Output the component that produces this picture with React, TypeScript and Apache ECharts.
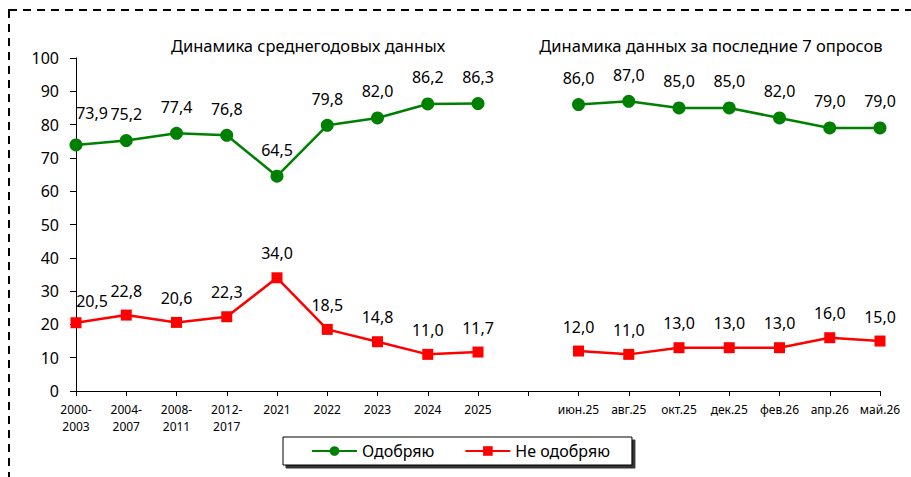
import React, { useEffect, useRef } from "react";
import * as echarts from "echarts";

const categories = [
  "2000-\n2003", "2004-\n2007", "2008-\n2011", "2012-\n2017", "2021", "2022", "2023", "2024", "2025",
  "",
  "июн.25", "авг.25", "окт.25", "дек.25", "фев.26", "апр.26", "май.26",
];
const approve: (number | null)[] = [73.9, 75.2, 77.4, 76.8, 64.5, 79.8, 82.0, 86.2, 86.3, null, 86.0, 87.0, 85.0, 85.0, 82.0, 79.0, 79.0];
const disapprove: (number | null)[] = [20.5, 22.8, 20.6, 22.3, 34.0, 18.5, 14.8, 11.0, 11.7, null, 12.0, 11.0, 13.0, 13.0, 13.0, 16.0, 15.0];
const yTicks = [0, 10, 20, 30, 40, 50, 60, 70, 80, 90, 100];
const titleLeft = "Динамика среднегодовых данных";
const titleRight = "Динамика данных за последние 7 опросов";

const FONT = "'Noto Sans', sans-serif";
const fmt = (p: any) => (p.value == null ? "" : Number(p.value).toFixed(1).replace(".", ","));

export default function App() {
  const ref = useRef<HTMLDivElement>(null);
  useEffect(() => {
    if (!ref.current) return;
    const chart = echarts.init(ref.current, undefined, { renderer: "svg" });
    const mkData = (arr: (number | null)[], firstOffset: number[]) =>
      arr.map((v, i) => (i === 0 ? { value: v, label: { offset: firstOffset } } : v));
    chart.setOption({
      animation: false,
      textStyle: { fontFamily: FONT },
      grid: { left: 76, right: 31, top: 58, bottom: 86 },
      graphic: [
        {
          type: "rect",
          shape: { x: 9, y: 10, width: 1000, height: 600 },
          style: { fill: "none", stroke: "#000", lineWidth: 2, lineDash: [8, 6] },
          silent: true,
        },
        {
          type: "text",
          style: { text: titleLeft, x: 308, y: 45, align: "center", verticalAlign: "middle", font: `16.5px ${FONT}`, fill: "#000" },
        },
        {
          type: "text",
          style: { text: titleRight, x: 711, y: 45, align: "center", verticalAlign: "middle", font: `16.5px ${FONT}`, fill: "#000" },
        },
      ],
      legend: {
        left: 283,
        top: 437,
        padding: [6, 22, 6, 28],
        itemWidth: 45,
        itemHeight: 12,
        itemGap: 30,
        backgroundColor: "#fff",
        borderColor: "#000",
        borderWidth: 1,
        borderRadius: 0,
        shadowColor: "rgba(0,0,0,0.8)",
        shadowOffsetX: 3,
        shadowOffsetY: 3,
        shadowBlur: 0,
        textStyle: { fontSize: 16, color: "#000", fontFamily: FONT },
        data: ["Одобряю", "Не одобряю"],
      },
      xAxis: {
        type: "category",
        data: categories,
        boundaryGap: false,
        axisLine: { lineStyle: { color: "#000", width: 1 } },
        axisTick: { show: true, length: 5, alignWithLabel: true, lineStyle: { color: "#000" } },
        axisLabel: { fontSize: 12, color: "#000", interval: 0, lineHeight: 17, margin: 10, fontFamily: FONT },
      },
      yAxis: {
        type: "value",
        min: 0,
        max: 100,
        interval: 10,
        splitLine: { show: false },
        axisLine: { show: true, lineStyle: { color: "#000", width: 1 } },
        axisTick: { show: true, length: 6, lineStyle: { color: "#000" } },
        axisLabel: {
          fontSize: 16,
          color: "#000",
          margin: 17,
          fontFamily: FONT,
          formatter: (v: number) => (yTicks.includes(v) ? String(v) : ""),
        },
      },
      series: [
        {
          name: "Одобряю",
          type: "line",
          data: mkData(approve, [16, -5]),
          connectNulls: false,
          symbol: "circle",
          symbolSize: 13,
          itemStyle: { color: "#008000" },
          lineStyle: { color: "#008000", width: 2.5 },
          label: { show: true, position: "top", distance: 12, fontSize: 16, color: "#000", formatter: fmt, fontFamily: FONT },
        },
        {
          name: "Не одобряю",
          type: "line",
          data: mkData(disapprove, [16, 3]),
          connectNulls: false,
          symbol: "rect",
          symbolSize: 11,
          itemStyle: { color: "#ff0000" },
          lineStyle: { color: "#ff0000", width: 2.5 },
          label: { show: true, position: "top", distance: 11, fontSize: 16, color: "#000", formatter: fmt, fontFamily: FONT },
        },
      ],
    });
    return () => chart.dispose();
  }, []);
  return <div ref={ref} style={{ width: 911, height: 477, position: "absolute", left: 0, top: 0, background: "#fff" }} />;
}
